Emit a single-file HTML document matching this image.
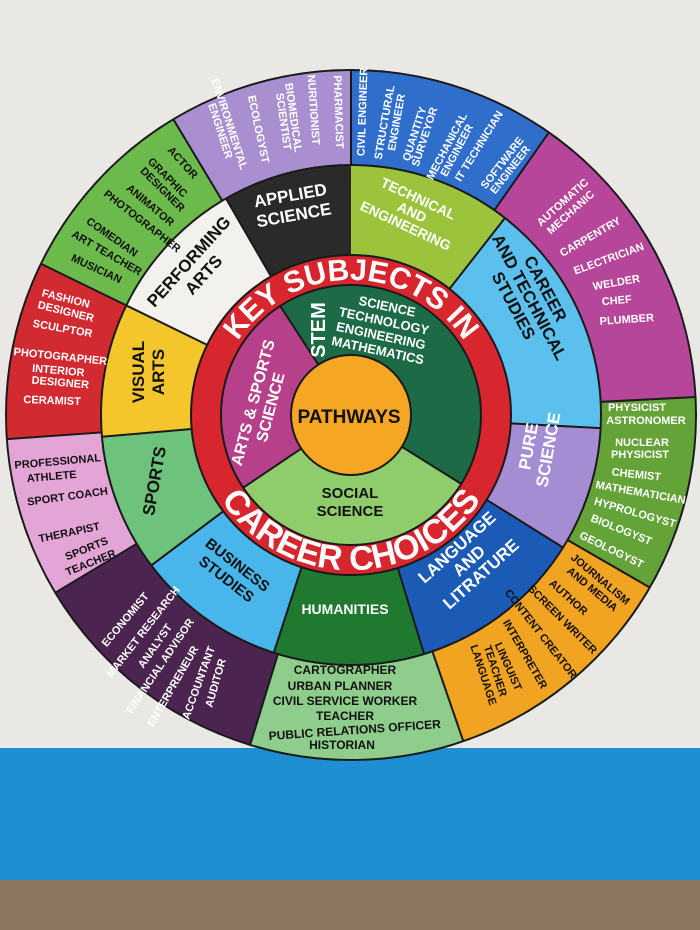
<!DOCTYPE html>
<html><head><meta charset="utf-8"><style>
html,body{margin:0;padding:0}
body{width:700px;height:930px;overflow:hidden;background:#e8e7e3}
svg{display:block}
text{font-family:"Liberation Sans Narrow","Liberation Sans",sans-serif;font-weight:bold;text-anchor:middle}
.w{fill:#fff}.b{fill:#111}
.o{font-size:11px}.m{font-size:17px}
</style></head><body>
<svg width="700" height="930" viewBox="0 0 700 930">
<rect x="0" y="0" width="700" height="750" fill="#e9e8e4"/>
<rect x="0" y="748" width="700" height="134" fill="#1e8fd2"/>
<rect x="0" y="880" width="700" height="50" fill="#8b7762"/>

<circle cx="351" cy="415" r="346" fill="#1a1a1a"/>
<g fill="none" stroke-width="94">
<circle cx="351" cy="415" r="297" stroke="#a98fcf" stroke-dasharray="160.7 2000" transform="rotate(239 351 415)"/>
<circle cx="351" cy="415" r="297" stroke="#2f6ecb" stroke-dasharray="181.4 2000" transform="rotate(-90 351 415)"/>
<circle cx="351" cy="415" r="297" stroke="#b5469a" stroke-dasharray="269.6 2000" transform="rotate(-55 351 415)"/>
<circle cx="351" cy="415" r="297" stroke="#64a338" stroke-dasharray="171.1 2000" transform="rotate(-3 351 415)"/>
<circle cx="351" cy="415" r="297" stroke="#f1a422" stroke-dasharray="212.5 2000" transform="rotate(30 351 415)"/>
<circle cx="351" cy="415" r="297" stroke="#8fcd8c" stroke-dasharray="186.6 2000" transform="rotate(71 351 415)"/>
<circle cx="351" cy="415" r="297" stroke="#4b2550" stroke-dasharray="217.7 2000" transform="rotate(107 351 415)"/>
<circle cx="351" cy="415" r="297" stroke="#e2a5d6" stroke-dasharray="140 2000" transform="rotate(149 351 415)"/>
<circle cx="351" cy="415" r="297" stroke="#d22a31" stroke-dasharray="155.5 2000" transform="rotate(176 351 415)"/>
<circle cx="351" cy="415" r="297" stroke="#6cba4c" stroke-dasharray="171.1 2000" transform="rotate(206 351 415)"/>
</g>
<g fill="none" stroke-width="90">
<circle cx="351" cy="415" r="205" stroke="#2a2a2a" stroke-dasharray="107.3 2000" transform="rotate(240 351 415)"/>
<circle cx="351" cy="415" r="205" stroke="#9bc43c" stroke-dasharray="136 2000" transform="rotate(-90 351 415)"/>
<circle cx="351" cy="415" r="205" stroke="#5cc0ee" stroke-dasharray="196.8 2000" transform="rotate(-52 351 415)"/>
<circle cx="351" cy="415" r="205" stroke="#a58dd4" stroke-dasharray="103.8 2000" transform="rotate(3 351 415)"/>
<circle cx="351" cy="415" r="205" stroke="#1b5bb6" stroke-dasharray="146.7 2000" transform="rotate(32 351 415)"/>
<circle cx="351" cy="415" r="205" stroke="#1f7a30" stroke-dasharray="125.2 2000" transform="rotate(73 351 415)"/>
<circle cx="351" cy="415" r="205" stroke="#48b6ea" stroke-dasharray="125.2 2000" transform="rotate(108 351 415)"/>
<circle cx="351" cy="415" r="205" stroke="#6dc27c" stroke-dasharray="114.5 2000" transform="rotate(143 351 415)"/>
<circle cx="351" cy="415" r="205" stroke="#f5c62b" stroke-dasharray="110.9 2000" transform="rotate(175 351 415)"/>
<circle cx="351" cy="415" r="205" stroke="#f3f1ee" stroke-dasharray="121.7 2000" transform="rotate(206 351 415)"/>
</g>
<circle cx="351" cy="415" r="160" fill="#d7262e" stroke="#1a1a1a" stroke-width="2"/>
<g fill="none" stroke-width="70">
<circle cx="351" cy="415" r="95" stroke="#1d6a46" stroke-dasharray="257 1000" transform="rotate(237 351 415)"/>
<circle cx="351" cy="415" r="95" stroke="#8fcc6b" stroke-dasharray="189 1000" transform="rotate(32 351 415)"/>
<circle cx="351" cy="415" r="95" stroke="#b7408a" stroke-dasharray="150.9 1000" transform="rotate(146 351 415)"/>
</g>
<circle cx="351" cy="415" r="130" fill="none" stroke="#1a1a1a" stroke-width="2"/>
<circle cx="351" cy="415" r="250" fill="none" stroke="#1a1a1a" stroke-width="2"/>
<circle cx="351" cy="415" r="60" fill="#f5a623" stroke="#1a1a1a" stroke-width="2"/>

<g stroke="#1a1a1a" stroke-width="2">
<line x1="351" y1="165" x2="351" y2="70" transform="rotate(0 351 415)"/>
<line x1="351" y1="165" x2="351" y2="70" transform="rotate(35 351 415)"/>
<line x1="351" y1="165" x2="351" y2="70" transform="rotate(87 351 415)"/>
<line x1="351" y1="165" x2="351" y2="70" transform="rotate(120 351 415)"/>
<line x1="351" y1="165" x2="351" y2="70" transform="rotate(161 351 415)"/>
<line x1="351" y1="165" x2="351" y2="70" transform="rotate(197 351 415)"/>
<line x1="351" y1="165" x2="351" y2="70" transform="rotate(239 351 415)"/>
<line x1="351" y1="165" x2="351" y2="70" transform="rotate(266 351 415)"/>
<line x1="351" y1="165" x2="351" y2="70" transform="rotate(296 351 415)"/>
<line x1="351" y1="165" x2="351" y2="70" transform="rotate(329 351 415)"/>
<line x1="351" y1="255" x2="351" y2="165" transform="rotate(38 351 415)"/>
<line x1="351" y1="255" x2="351" y2="165" transform="rotate(93 351 415)"/>
<line x1="351" y1="255" x2="351" y2="165" transform="rotate(122 351 415)"/>
<line x1="351" y1="255" x2="351" y2="165" transform="rotate(163 351 415)"/>
<line x1="351" y1="255" x2="351" y2="165" transform="rotate(198 351 415)"/>
<line x1="351" y1="255" x2="351" y2="165" transform="rotate(233 351 415)"/>
<line x1="351" y1="255" x2="351" y2="165" transform="rotate(265 351 415)"/>
<line x1="351" y1="255" x2="351" y2="165" transform="rotate(296 351 415)"/>
<line x1="351" y1="255" x2="351" y2="165" transform="rotate(330 351 415)"/>
<line x1="351" y1="355" x2="351" y2="285" transform="rotate(122 351 415)"/>
<line x1="351" y1="355" x2="351" y2="285" transform="rotate(236 351 415)"/>
<line x1="351" y1="355" x2="351" y2="285" transform="rotate(327 351 415)"/>
</g>

<defs>
<path id="top" d="M224.1,368.8 A135,135 0 0 1 477.9,368.8"/>
<path id="bot" d="M205.3,468 A155,155 0 0 0 496.7,468"/>
</defs>
<text class="w" style="font-size:30px"><textPath href="#top" startOffset="50%">KEY SUBJECTS IN</textPath></text>
<text class="w" style="font-size:34px"><textPath href="#bot" startOffset="50%">CAREER CHOICES</textPath></text>

<text class="b" x="349" y="423" style="font-size:19px">PATHWAYS</text>
<text class="w" style="font-size:20px" transform="translate(325 330) rotate(-90)">STEM</text>
<g class="w" style="font-size:13px" transform="translate(380 340) rotate(12)">
<text x="0" y="-30">SCIENCE</text><text x="0" y="-15">TECHNOLOGY</text><text x="0" y="0">ENGINEERING</text><text x="0" y="15">MATHEMATICS</text></g>
<g class="w" style="font-size:16px" transform="translate(262 405) rotate(-75)"><text x="0" y="-4">ARTS &amp; SPORTS</text><text x="0" y="14">SCIENCE</text></g>
<g class="b" style="font-size:15px"><text x="350" y="498">SOCIAL</text><text x="350" y="516">SCIENCE</text></g>

<g class="w m" transform="translate(292 205) rotate(-10)"><text y="-4">APPLIED</text><text y="16">SCIENCE</text></g>
<g class="w" style="font-size:14px" transform="translate(412 212) rotate(25)"><text y="-10">TECHNICAL</text><text y="5">AND</text><text y="20">ENGINEERING</text></g>
<g class="b m" transform="translate(528 298) rotate(62)"><text y="-14">CAREER</text><text y="4">AND TECHNICAL</text><text y="22">STUDIES</text></g>
<g class="w m" transform="translate(538 448) rotate(-80)"><text y="-4">PURE</text><text y="16">SCIENCE</text></g>
<g class="w m" transform="translate(470 562) rotate(-42)"><text y="-14">LANGUAGE</text><text y="4">AND</text><text y="22">LITRATURE</text></g>
<text class="w" x="345" y="614" style="font-size:14px">HUMANITIES</text>
<g class="b" style="font-size:15px" transform="translate(232 572) rotate(38)"><text y="-4">BUSINESS</text><text y="14">STUDIES</text></g>
<text class="b m" transform="translate(160 482) rotate(-80)">SPORTS</text>
<g class="b m" transform="translate(148 372) rotate(-90)"><text y="-4">VISUAL</text><text y="16">ARTS</text></g>
<g class="b m" transform="translate(196 268) rotate(-48)"><text y="-4">PERFORMING</text><text y="16">ARTS</text></g>

<g class="w o">
<text transform="translate(226 125) rotate(72)">ENVIRONMENTAL</text>
<text transform="translate(217 132) rotate(72)">ENGINEER</text>
<text transform="translate(255 130) rotate(78)">ECOLOGYST</text>
<text transform="translate(290 118) rotate(82)">BIOMEDICAL</text>
<text transform="translate(280 122) rotate(82)">SCIENTIST</text>
<text transform="translate(310 110) rotate(86)">NURITIONIST</text>
<text transform="translate(335 112) rotate(88)">PHARMACIST</text>
<text transform="translate(366 112) rotate(-88)">CIVIL ENGINEER</text>
<text transform="translate(388 123) rotate(-80)">STRUCTURAL</text>
<text transform="translate(400 123) rotate(-80)">ENGINEER</text>
<text transform="translate(418 135) rotate(-72)">QUANTITY</text>
<text transform="translate(428 138) rotate(-72)">SURVEYOR</text>
<text transform="translate(450 148) rotate(-62)">MECHANICAL</text>
<text transform="translate(460 152) rotate(-62)">ENGINEER</text>
<text transform="translate(482 148) rotate(-58)">IT TECHNICIAN</text>
<text transform="translate(505 165) rotate(-52)">SOFTWARE</text>
<text transform="translate(513 172) rotate(-52)">ENGINEER</text>
<text transform="translate(565 205) rotate(-42)">AUTOMATIC</text>
<text transform="translate(573 215) rotate(-42)">MECHANIC</text>
<text transform="translate(592 240) rotate(-30)">CARPENTRY</text>
<text transform="translate(610 262) rotate(-20)">ELECTRICIAN</text>
<text transform="translate(617 286) rotate(-10)">WELDER</text>
<text transform="translate(617 304) rotate(-5)">CHEF</text>
<text transform="translate(627 323) rotate(-4)">PLUMBER</text>
<text x="637" y="411">PHYSICIST</text>
<text x="646" y="424">ASTRONOMER</text>
<text x="642" y="446">NUCLEAR</text>
<text x="640" y="458">PHYSICIST</text>
<text transform="translate(636 478) rotate(6)">CHEMIST</text>
<text transform="translate(640 496) rotate(10)">MATHEMATICIAN</text>
<text transform="translate(634 516) rotate(16)">HYPROLOGYST</text>
<text transform="translate(620 533) rotate(22)">BIOLOGYST</text>
<text transform="translate(610 553) rotate(26)">GEOLOGYST</text>
<text transform="translate(128 622) rotate(-50)">ECONOMIST</text>
<text transform="translate(146 634) rotate(-52)">MARKET RESEARCH</text>
<text transform="translate(158 648) rotate(-55)">ANALYST</text>
<text transform="translate(163 668) rotate(-56)">FINANCIAL ADVISOR</text>
<text transform="translate(176 688) rotate(-60)">ENTERPRENEUR</text>
<text transform="translate(202 684) rotate(-70)">ACCOUNTANT</text>
<text transform="translate(219 684) rotate(-74)">AUDITOR</text>
<text transform="translate(65 302) rotate(14)">FASHION</text>
<text transform="translate(65 315) rotate(14)">DESIGNER</text>
<text transform="translate(62 332) rotate(10)">SCULPTOR</text>
<text transform="translate(60 360) rotate(6)">PHOTOGRAPHER</text>
<text transform="translate(58 374) rotate(5)">INTERIOR</text>
<text transform="translate(60 386) rotate(5)">DESIGNER</text>
<text transform="translate(52 404) rotate(2)">CERAMIST</text>
</g>
<g class="b o">
<text transform="translate(598 582) rotate(40)">JOURNALISM</text>
<text transform="translate(590 592) rotate(40)">AND MEDIA</text>
<text transform="translate(566 600) rotate(42)">AUTHOR</text>
<text transform="translate(560 622) rotate(45)">SCREEN WRITER</text>
<text transform="translate(538 636) rotate(52)">CONTENT CREATOR</text>
<text transform="translate(522 656) rotate(60)">INTERPRETER</text>
<text transform="translate(505 668) rotate(66)">LINGUIST</text>
<text transform="translate(480 676) rotate(72)">LANGUAGE</text>
<text transform="translate(492 672) rotate(72)">TEACHER</text>
<text x="345" y="674" style="font-size:12px">CARTOGRAPHER</text>
<text x="340" y="690" style="font-size:12px">URBAN PLANNER</text>
<text x="345" y="705" style="font-size:12px">CIVIL SERVICE WORKER</text>
<text x="345" y="720" style="font-size:12px">TEACHER</text>
<text x="355" y="734" style="font-size:12px" transform="rotate(-4 355 734)">PUBLIC RELATIONS OFFICER</text>
<text x="342" y="749" style="font-size:12px">HISTORIAN</text>
<text transform="translate(58 465) rotate(-5)">PROFESSIONAL</text>
<text transform="translate(52 480) rotate(-5)">ATHLETE</text>
<text transform="translate(68 500) rotate(-8)">SPORT COACH</text>
<text transform="translate(70 536) rotate(-12)">THERAPIST</text>
<text transform="translate(88 552) rotate(-22)">SPORTS</text>
<text transform="translate(92 566) rotate(-22)">TEACHER</text>
<text transform="translate(180 165) rotate(48)">ACTOR</text>
<text transform="translate(165 180) rotate(45)">GRAPHIC</text>
<text transform="translate(160 192) rotate(45)">DESIGNER</text>
<text transform="translate(148 208) rotate(40)">ANIMATOR</text>
<text transform="translate(140 224) rotate(38)">PHOTOGRAPHER</text>
<text transform="translate(110 240) rotate(35)">COMEDIAN</text>
<text transform="translate(105 256) rotate(30)">ART TEACHER</text>
<text transform="translate(95 272) rotate(25)">MUSICIAN</text>
</g>
</svg>
</body></html>
